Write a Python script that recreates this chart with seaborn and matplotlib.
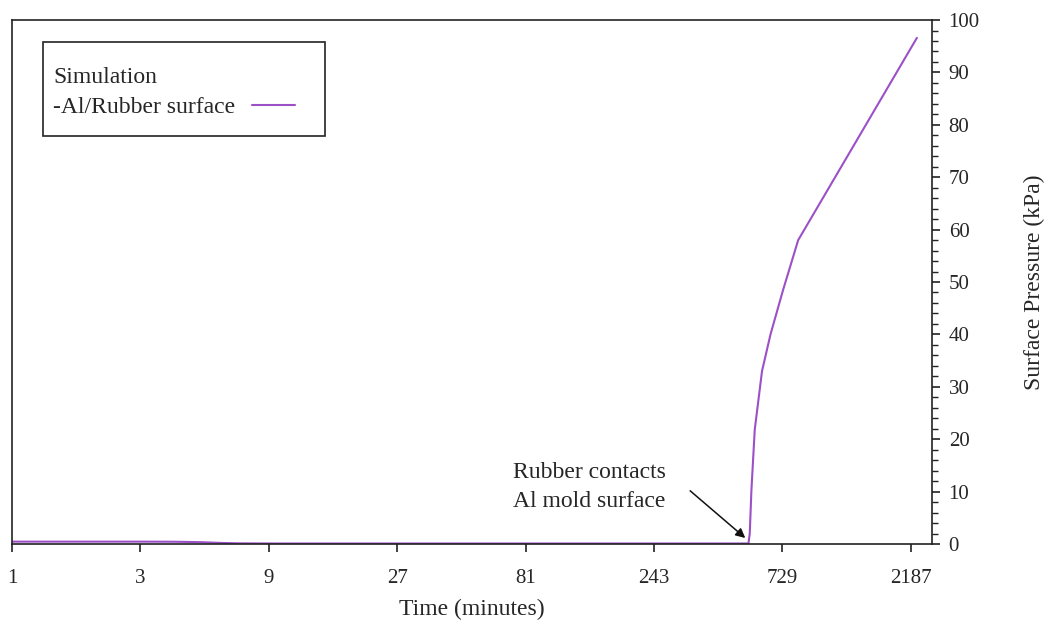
import numpy as np
import pandas as pd
import matplotlib
matplotlib.use("Agg")
import matplotlib.pyplot as plt
from matplotlib.patches import Rectangle
from matplotlib.ticker import FixedLocator, FixedFormatter, MultipleLocator, NullLocator
import seaborn as sns

# ----------------------------
# Data
# ----------------------------
time_min = [1, 2, 3, 4, 5, 6, 7, 9, 27, 81, 243, 545, 551, 559, 575, 612, 658, 733, 834, 2303]
pressure_kpa = [0.45, 0.45, 0.45, 0.43, 0.35, 0.2, 0.12, 0.1, 0.1, 0.1, 0.1, 0.1, 2.0, 10.3, 21.8, 33.0, 40.0, 48.5, 58.0, 96.6]
x_ticks = [1, 3, 9, 27, 81, 243, 729, 2187]
x_tick_labels = [str(t) for t in x_ticks]
series_label = "-Al/Rubber surface"
legend_title = "Simulation"

df = pd.DataFrame({"Time": time_min, "Pressure": pressure_kpa})

sns.set_style("white")
plt.rcParams['font.family'] = ['Liberation Serif', 'DejaVu Serif']

fig = plt.figure(figsize=(10.46, 6.26), dpi=100)
ax = fig.add_axes([0.0115, 0.131, 0.8795, 0.837])

line_color = '#9C50C8'
sns.lineplot(data=df, x="Time", y="Pressure", ax=ax, color=line_color,
             linewidth=1.5, label=series_label, sort=True, estimator=None)

# ----------------------------
# Axes
# ----------------------------
ax.set_xscale('log', base=3)
ax.set_xlim(1, 2620)
ax.set_ylim(0, 100)
ax.xaxis.set_major_locator(FixedLocator(x_ticks))
ax.xaxis.set_major_formatter(FixedFormatter(x_tick_labels))
ax.xaxis.set_minor_locator(NullLocator())

ax.yaxis.tick_right()
ax.yaxis.set_label_position('right')
ax.yaxis.set_major_locator(MultipleLocator(10))
ax.yaxis.set_minor_locator(MultipleLocator(2))

for s in ax.spines.values():
    s.set_visible(True)
    s.set_color('#222222')
    s.set_linewidth(1.2)

ax.tick_params(axis='x', which='major', direction='out', length=6, width=1.2,
               color='#222222', labelsize=15, pad=12, bottom=True)
ax.tick_params(axis='y', which='major', direction='out', length=6, width=1.2,
               color='#222222', labelsize=15, pad=6, right=True, left=False)
ax.tick_params(axis='y', which='minor', direction='out', length=4, width=1.0,
               color='#222222', right=True, left=False)

ax.set_xlabel("Time (minutes)", fontsize=17, labelpad=8)
ax.set_ylabel("Surface Pressure (kPa)", fontsize=17, labelpad=32, rotation=90)

# ----------------------------
# Legend (frame drawn as a separate box)
# ----------------------------
leg = ax.legend(title=legend_title, loc='upper left', bbox_to_anchor=(0.045, 0.91),
                markerfirst=False, frameon=False, fontsize=17,
                title_fontsize=17, handlelength=1.8, handletextpad=0.7,
                labelspacing=0.35, borderpad=0, alignment='left', borderaxespad=0)
ax.add_patch(Rectangle((0.0337, 0.779), 0.3063, 0.179, transform=ax.transAxes,
                       fill=False, edgecolor='#222222', linewidth=1.2, zorder=5))

# ----------------------------
# Annotation
# ----------------------------
ax.text(0.545, 0.157, "Rubber contacts\nAl mold surface", transform=ax.transAxes,
        fontsize=17, va='top', ha='left', linespacing=1.5)
ax.annotate("", xy=(540, 0.8), xytext=(325, 10.5),
            arrowprops=dict(arrowstyle='-|>', color='#111111', lw=1.1,
                            mutation_scale=14))

fig.savefig("out.png", dpi=100)
